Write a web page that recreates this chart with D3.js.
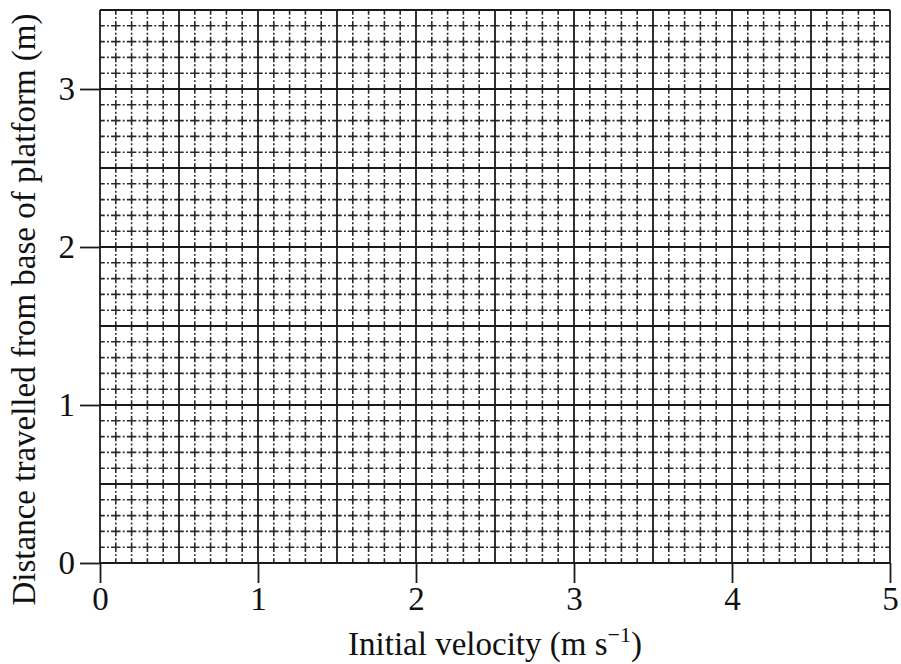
<!DOCTYPE html>
<html>
<head>
<meta charset="utf-8">
<script src="https://cdn.jsdelivr.net/npm/d3@7"></script>
</head>
<body style="margin:0;background:#fff">
<div id="chart"></div>
<script>
// ------------------------------
// Data (axis ranges and tick labels)
// ------------------------------
const xDomain = [0, 5];
const yDomain = [0, 3.5];
const xTicks = [0, 1, 2, 3, 4, 5];
const yTicks = [0, 1, 2, 3];
const xLabel = "Initial velocity (m s";
const xLabelSup = "\u22121";
const yLabel = "Distance travelled from base of platform (m)";
const minorStep = 0.1;
const majorStep = 0.5;

const FONT = "'Liberation Serif'";
const width = 901;
const height = 664;
const margin = { top: 10, right: 11, bottom: 101, left: 100 };

const svg = d3.select("#chart").append("svg").attr("width", width).attr("height", height);

const x = d3.scaleLinear().domain(xDomain).range([margin.left, width - margin.right]);
const y = d3.scaleLinear().domain(yDomain).range([height - margin.bottom, margin.top]);

// grid positions
const xMinor = d3.range(0, Math.round(xDomain[1] / minorStep) + 1).map((i) => +(i * minorStep).toFixed(2));
const yMinor = d3.range(0, Math.round(yDomain[1] / minorStep) + 1).map((i) => +(i * minorStep).toFixed(2));
const isMajor = (v) => Math.abs(v / majorStep - Math.round(v / majorStep)) < 1e-6;

// dash-dot pattern, one period per minor cell, dash centred on the crossings
const unit = x(minorStep) - x(0);
const dash = `${unit * 0.6},${unit * 0.14},${unit * 0.12},${unit * 0.14}`;
const offset = unit * 0.3;

// Minor dash-dot lines
const minor = svg.append("g").attr("stroke", "#2a2a2a").attr("stroke-width", 1.6).attr("fill", "none")
  .attr("stroke-dasharray", dash).attr("stroke-dashoffset", offset);

minor.selectAll("line.vx")
  .data(xMinor.filter((d) => !isMajor(d)))
  .join("line")
  .attr("class", "vx")
  .attr("x1", (d) => x(d)).attr("x2", (d) => x(d))
  .attr("y1", y(yDomain[0])).attr("y2", y(yDomain[1]));

minor.selectAll("line.hy")
  .data(yMinor.filter((d) => !isMajor(d)))
  .join("line")
  .attr("class", "hy")
  .attr("y1", (d) => y(d)).attr("y2", (d) => y(d))
  .attr("x1", x(xDomain[0])).attr("x2", x(xDomain[1]));

// Major solid lines
const major = svg.append("g").attr("stroke", "#1a1a1a").attr("stroke-width", 1.8);

major.selectAll("line.vx")
  .data(xMinor.filter(isMajor))
  .join("line")
  .attr("class", "vx")
  .attr("x1", (d) => x(d)).attr("x2", (d) => x(d))
  .attr("y1", y(yDomain[0])).attr("y2", y(yDomain[1]));

major.selectAll("line.hy")
  .data(yMinor.filter(isMajor))
  .join("line")
  .attr("class", "hy")
  .attr("y1", (d) => y(d)).attr("y2", (d) => y(d))
  .attr("x1", x(xDomain[0])).attr("x2", x(xDomain[1]));

// Axes
const xAxis = d3.axisBottom(x).tickValues(xTicks).tickFormat(d3.format("d")).tickSize(20).tickPadding(4);
const gx = svg.append("g").attr("transform", `translate(0,${y(0)})`).call(xAxis);

const yAxis = d3.axisLeft(y).tickValues(yTicks).tickFormat(d3.format("d")).tickSize(20).tickPadding(5);
const gy = svg.append("g").attr("transform", `translate(${x(0)},0)`).call(yAxis);

[gx, gy].forEach((g) => {
  g.select(".domain").remove();
  g.selectAll(".tick line").attr("stroke", "#1a1a1a").attr("stroke-width", 1.8);
  g.selectAll(".tick text")
    .style("font-family", FONT)
    .style("font-size", "33px")
    .attr("fill", "#111");
});

// Axis titles
const xt = svg.append("text")
  .attr("x", (x(0) + x(5)) / 2)
  .attr("y", 655)
  .attr("text-anchor", "middle")
  .attr("fill", "#111")
  .style("font-family", FONT)
  .style("font-size", "33px");
xt.append("tspan").text(xLabel);
xt.append("tspan").style("font-size", "22px").attr("dy", -13).text(xLabelSup);
xt.append("tspan").attr("dy", 13).text(")");

svg.append("text")
  .attr("transform", `translate(35,${(y(0) + y(3.5)) / 2 + 23}) rotate(-90)`)
  .attr("text-anchor", "middle")
  .attr("fill", "#111")
  .style("font-family", FONT)
  .style("font-size", "33px")
  .text(yLabel);
</script>
</body>
</html>
